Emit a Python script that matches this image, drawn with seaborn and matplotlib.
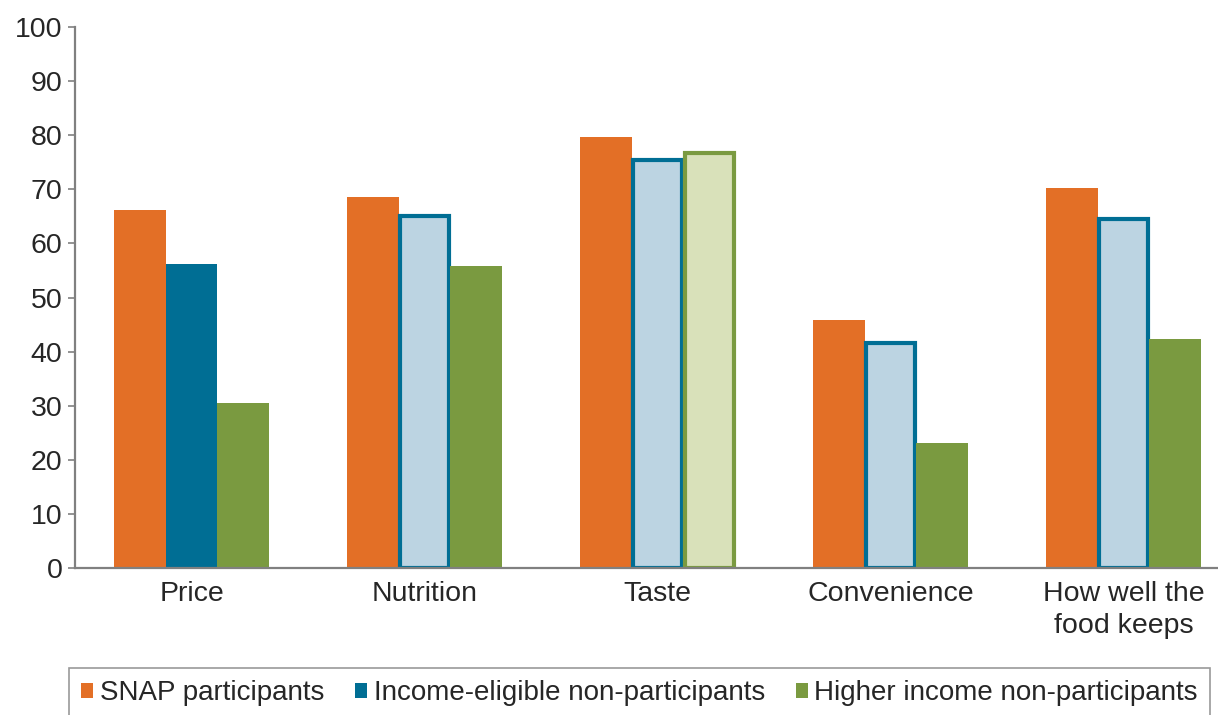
import matplotlib
matplotlib.use("Agg")
import matplotlib.pyplot as plt
import seaborn as sns
import pandas as pd
from matplotlib.patches import Patch

# reasons for food choice, percent by group
categories = ["Price", "Nutrition", "Taste", "Convenience", "How well the\nfood keeps"]
groups = ["SNAP participants", "Income-eligible non-participants", "Higher income non-participants"]
snap = [66.2, 68.6, 79.7, 45.8, 70.2]
eligible = [56.2, 65.1, 75.4, 41.6, 64.5]
higher = [30.5, 55.8, 76.7, 23.1, 42.3]

# bars drawn as outline + light fill (group index -> category indices)
outlined = {1: [1, 2, 3, 4], 2: [2]}

colors = ["#E36F26", "#006E94", "#7A9A40"]
light = {1: "#BCD4E2", 2: "#D9E1BA"}

df = pd.DataFrame({
    "category": categories * 3,
    "group": [groups[0]] * 5 + [groups[1]] * 5 + [groups[2]] * 5,
    "value": snap + eligible + higher,
})

sns.set_style("white")
plt.rcParams["font.family"] = ["Liberation Sans", "DejaVu Sans"]

fig = plt.figure(figsize=(12.18, 7.15), dpi=100)
ax = fig.add_axes([75 / 1218, 1 - 568 / 715, 1143 / 1218, 541 / 715])

sns.barplot(data=df, x="category", y="value", hue="group", hue_order=groups,
            palette=colors, width=0.665, gap=0, saturation=1, legend=False,
            linewidth=0, ax=ax)

for gi, cont in enumerate(ax.containers):
    for ci, bar in enumerate(cont):
        if ci in outlined.get(gi, []):
            bar.set_facecolor(light[gi])
            bar.set_edgecolor(colors[gi])
            bar.set_linewidth(3)
            # keep outline inside the bar width
            w = bar.get_width()
            bar.set_x(bar.get_x() + 0.006)
            bar.set_width(w - 0.012)

ax.set_xlim(-0.5, 4.405)
ax.set_ylim(0, 100)
ax.set_yticks(range(0, 101, 10))
ax.set_xlabel("")
ax.set_ylabel("")
ax.tick_params(axis="y", left=True, length=5, width=1.2, color="#808080",
               labelsize=20.5, pad=4)
ax.tick_params(axis="x", bottom=False, labelsize=20.5, pad=6)
for lbl in ax.get_xticklabels():
    lbl.set_linespacing(1.3)
for s in ["top", "right"]:
    ax.spines[s].set_visible(False)
for s in ["left", "bottom"]:
    ax.spines[s].set_color("#808080")
    ax.spines[s].set_linewidth(1.6)

handles = [Patch(facecolor=c, edgecolor="none") for c in colors]
leg = fig.legend(handles, groups, loc="upper center", ncol=3,
                 bbox_to_anchor=(639.5 / 1218, 1 - 668 / 715),
                 fontsize=20, frameon=True, fancybox=False,
                 handlelength=0.43, handleheight=0.43, handletextpad=0.25,
                 columnspacing=1.1, borderpad=0.45, borderaxespad=0)
leg.get_frame().set_edgecolor("#808080")
leg.get_frame().set_linewidth(1.2)

fig.savefig("out.png", dpi=100)
